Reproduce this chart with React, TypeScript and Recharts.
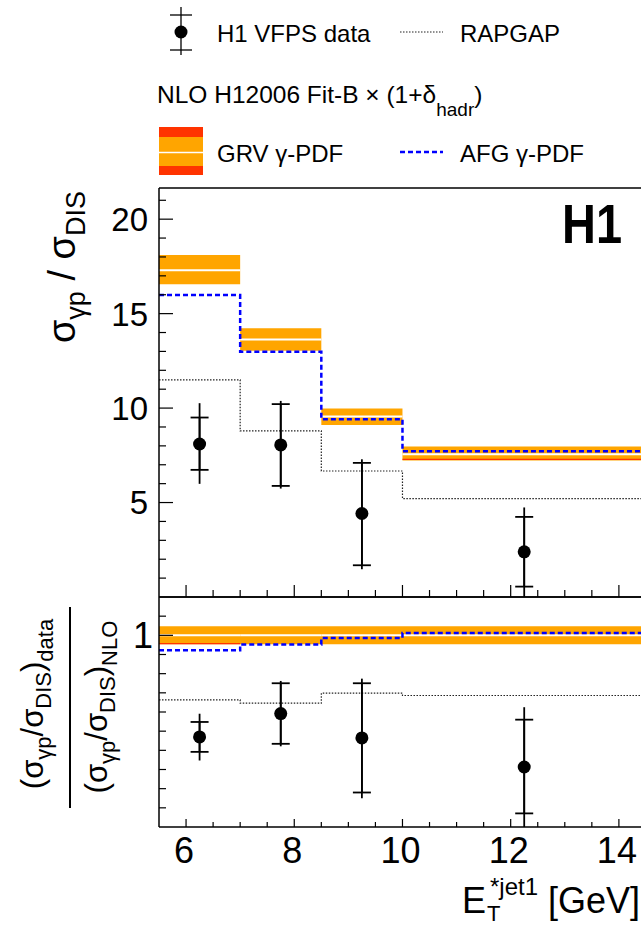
import React from 'react';
import {
  ComposedChart,
  Line,
  Area,
  Scatter,
  ErrorBar,
  XAxis,
  YAxis,
  ReferenceLine,
} from 'recharts';

// bin edges in E_T*jet1 [GeV] and data point positions
const binEdges = [5.5, 7, 8.5, 10, 15];
const pointX = [6.25, 7.75, 9.25, 12.25];

// top panel: sigma_gp / sigma_DIS
const dataY = [8.1, 8.05, 4.42, 2.39];
const statLo = [6.73, 5.88, 1.68, 0.55];
const statHi = [9.5, 10.21, 7.1, 4.24];
const totLo = [5.99, 5.74, 1.47, 0.0];
const totHi = [10.26, 10.38, 7.29, 4.74];
const rapgap = [11.49, 8.79, 6.67, 5.21];
const afg = [15.98, 12.98, 9.41, 7.72];
const grvCentral = [17.3, 13.63, 9.55, 7.56];
const grvLo = [16.56, 13.03, 9.11, 7.22];
const grvHi = [18.1, 14.22, 9.98, 7.96];
const grvRed = [null, null, null, 7.28];

// bottom panel: data / NLO
const ratioY = [0.47, 0.592, 0.465, 0.313];
const ratioStatLo = [0.392, 0.434, 0.18, 0.071];
const ratioStatHi = [0.548, 0.75, 0.75, 0.56];
const ratioTotLo = [0.347, 0.421, 0.15, 0.0];
const ratioTotHi = [0.591, 0.762, 0.774, 0.625];
const ratioRapgap = [0.663, 0.646, 0.698, 0.686];
const ratioAfg = [0.922, 0.952, 0.986, 1.012];
const ratioCentral = [1.0, 1.0, 1.0, 1.0];
const ratioLo = [0.953, 0.953, 0.953, 0.953];
const ratioHi = [1.047, 1.047, 1.047, 1.047];
const ratioRed = [0.957, null, null, null];

// axis ticks
const xTicks = [6, 6.5, 7, 7.5, 8, 8.5, 9, 9.5, 10, 10.5, 11, 11.5, 12, 12.5, 13, 13.5, 14, 14.5];
const topYTicks = [1, 2, 3, 4, 5, 6, 7, 8, 9, 10, 11, 12, 13, 14, 15, 16, 17, 18, 19, 20, 21];
const ratioYTicks = [0.1, 0.2, 0.3, 0.4, 0.5, 0.6, 0.7, 0.8, 0.9, 1.0, 1.1];

const FONT = '"Liberation Sans", Arial, Helvetica, sans-serif';
const PL = 159; // plot left
const TOP_BOTTOM = 597;
const BOT_BOTTOM = 827;
const ORANGE = '#ffa500';
const RED = '#ff3300';

const steps = (vals: (number | null)[]) =>
  binEdges.map((x, i) => ({ x, v: vals[Math.min(i, vals.length - 1)] }));

const bandSteps = (lo: number[], hi: number[]) =>
  binEdges.map((x, i) => {
    const k = Math.min(i, lo.length - 1);
    return { x, band: [lo[k], hi[k]] };
  });

const points = (y: number[], sLo: number[], sHi: number[], tLo: number[], tHi: number[]) =>
  pointX.map((x, i) => ({
    x,
    y: y[i],
    stat: [y[i] - sLo[i], sHi[i] - y[i]],
    tot: [y[i] - tLo[i], tHi[i] - y[i]],
  }));

const Dot = (p: any) => <circle cx={p.cx} cy={p.cy} r={6.5} fill="#000" />;

const TopYTick = (p: any) => {
  const v = p.payload.value;
  const major = v % 5 === 0;
  return (
    <g>
      <line x1={PL} x2={PL + (major ? 14 : 7)} y1={p.y} y2={p.y} stroke="#000" strokeWidth={1.2} />
      {major && (
        <text x={PL - 11} y={p.y} dy="0.36em" textAnchor="end" fontSize={33} fontFamily={FONT} fill="#000">
          {v}
        </text>
      )}
    </g>
  );
};

const RatioYTick = (p: any) => {
  const v = p.payload.value;
  const major = Math.abs(v - 1) < 1e-6;
  return (
    <g>
      <line x1={PL} x2={PL + (major ? 14 : 7)} y1={p.y} y2={p.y} stroke="#000" strokeWidth={1.2} />
      {major && (
        <text x={PL - 6} y={p.y} dy="0.36em" textAnchor="end" fontSize={36} fontFamily={FONT} fill="#000">
          1
        </text>
      )}
    </g>
  );
};

const TopXTick = (p: any) => {
  const major = p.payload.value % 2 === 0;
  return <line x1={p.x} x2={p.x} y1={TOP_BOTTOM} y2={TOP_BOTTOM - (major ? 12 : 7)} stroke="#000" strokeWidth={1.2} />;
};

const BotXTick = (p: any) => {
  const v = p.payload.value;
  const major = v % 2 === 0;
  return (
    <g>
      <line x1={p.x} x2={p.x} y1={BOT_BOTTOM} y2={BOT_BOTTOM - (major ? 8 : 5)} stroke="#000" strokeWidth={1.2} />
      {major && (
        <text x={p.x - 2} y={863} textAnchor="middle" fontSize={36} fontFamily={FONT} fill="#000">
          {v}
        </text>
      )}
    </g>
  );
};

const segs = (vals: (number | null)[], color: string, width: number, key: string) =>
  vals.map((v, i) =>
    v == null ? null : (
      <ReferenceLine
        key={key + i}
        segment={[
          { x: binEdges[i], y: v },
          { x: binEdges[i + 1], y: v },
        ]}
        stroke={color}
        strokeWidth={width}
      />
    )
  );

const Panel = ({
  height,
  marginTop,
  xHeight,
  domain,
  yTicks,
  YTick,
  XTick,
  pts,
  rap,
  afgVals,
  lo,
  hi,
  central,
  red,
}: any) => (
  <ComposedChart width={680} height={height} margin={{ top: marginTop, right: 7, bottom: 0, left: 0 }}>
    <XAxis
      type="number"
      dataKey="x"
      domain={[5.5, 15]}
      allowDataOverflow
      ticks={xTicks}
      interval={0}
      height={xHeight}
      tickLine={false}
      axisLine={{ stroke: '#000', strokeWidth: 1.5 }}
      tick={XTick}
    />
    <YAxis
      type="number"
      domain={domain}
      allowDataOverflow
      ticks={yTicks}
      interval={0}
      width={PL}
      tickLine={false}
      axisLine={{ stroke: '#000', strokeWidth: 1.5 }}
      tick={YTick}
    />
    <ReferenceLine y={domain[1]} stroke="#000" strokeWidth={1.5} />
    <Area
      data={bandSteps(lo, hi)}
      dataKey="band"
      type="stepAfter"
      fill={ORANGE}
      fillOpacity={1}
      stroke="none"
      isAnimationActive={false}
      activeDot={false}
    />
    {segs(central, '#fff', 2, 'c')}
    {segs(red, RED, 1.2, 'r')}
    <Line
      data={steps(rap)}
      dataKey="v"
      type="stepAfter"
      stroke="#222"
      strokeWidth={1.2}
      strokeDasharray="1.5 1.5"
      dot={false}
      activeDot={false}
      isAnimationActive={false}
    />
    <Line
      data={steps(afgVals)}
      dataKey="v"
      type="stepAfter"
      stroke="#0000ff"
      strokeWidth={2.5}
      strokeDasharray="5 3"
      dot={false}
      activeDot={false}
      isAnimationActive={false}
    />
    <Scatter data={pts} dataKey="y" shape={Dot} isAnimationActive={false}>
      <ErrorBar dataKey="tot" direction="y" width={0} stroke="#000" strokeWidth={1.8} />
      <ErrorBar dataKey="stat" direction="y" width={9} stroke="#000" strokeWidth={1.8} />
    </Scatter>
  </ComposedChart>
);

const Overlay = () => (
  <svg width={641} height={927} style={{ position: 'absolute', left: 0, top: 0 }} fontFamily={FONT}>
    {/* legend */}
    <line x1={181} x2={181} y1={7} y2={55} stroke="#000" strokeWidth={1.3} />
    <line x1={170} x2={192} y1={15} y2={15} stroke="#000" strokeWidth={1.3} />
    <line x1={170} x2={192} y1={50} y2={50} stroke="#000" strokeWidth={1.3} />
    <circle cx={181} cy={32} r={6.5} fill="#000" />
    <text x={217} y={42} fontSize={24}>H1 VFPS data</text>
    <line x1={400} x2={443} y1={32} y2={32} stroke="#222" strokeWidth={1.2} strokeDasharray="1.5 1.5" />
    <text x={460} y={42} fontSize={24}>RAPGAP</text>
    <text x={157} y={103} fontSize={24.5}>
      NLO H12006 Fit-B × (1+δ
      <tspan fontSize={19} dy={13}>hadr</tspan>
      <tspan dy={-13}>)</tspan>
    </text>
    <rect x={159} y={127} width={44} height={48} fill={RED} />
    <rect x={159} y={137} width={44} height={29} fill={ORANGE} />
    <line x1={159} x2={203} y1={152.5} y2={152.5} stroke="#fff" strokeWidth={1.5} />
    <text x={217} y={162} fontSize={24}>GRV γ-PDF</text>
    <line x1={400} x2={443} y1={152} y2={152} stroke="#0000ff" strokeWidth={2.5} strokeDasharray="5 3" />
    <text x={460} y={162} fontSize={24}>AFG γ-PDF</text>
    {/* H1 logo */}
    <text x={562} y={243} fontSize={56} fontWeight="bold" textLength={60} lengthAdjust="spacingAndGlyphs">
      H1
    </text>
    {/* y titles */}
    <text transform="rotate(-90 75 267)" x={75} y={267} textAnchor="middle" fontSize={38}>
      σ<tspan fontSize={27} dy={10}>γp</tspan>
      <tspan dy={-10}> / σ</tspan>
      <tspan fontSize={27} dy={10}>DIS</tspan>
    </text>
    <line x1={70} x2={70} y1={607} y2={808} stroke="#000" strokeWidth={2} />
    <text transform="rotate(-90 43 704)" x={43} y={704} textAnchor="middle" fontSize={31}>
      (σ<tspan fontSize={22} dy={8}>γp</tspan>
      <tspan dy={-8}>/σ</tspan>
      <tspan fontSize={22} dy={8}>DIS</tspan>
      <tspan dy={-8}>)</tspan>
      <tspan fontSize={22} dy={10}>data</tspan>
    </text>
    <text transform="rotate(-90 107 707)" x={107} y={707} textAnchor="middle" fontSize={31}>
      (σ<tspan fontSize={22} dy={8}>γp</tspan>
      <tspan dy={-8}>/σ</tspan>
      <tspan fontSize={22} dy={8}>DIS</tspan>
      <tspan dy={-8}>)</tspan>
      <tspan fontSize={22} dy={10}>NLO</tspan>
    </text>
    {/* x title */}
    <text x={462} y={913} fontSize={36}>E</text>
    <text x={487} y={921} fontSize={22}>T</text>
    <text x={490} y={895} fontSize={24}>*jet1</text>
    <text x={548} y={913} fontSize={36}>[GeV]</text>
  </svg>
);

export default function App() {
  return (
    <div
      style={{
        position: 'fixed',
        left: 0,
        top: 0,
        width: 641,
        height: 927,
        overflow: 'hidden',
        background: '#fff',
        fontFamily: FONT,
      }}
    >
      <div style={{ position: 'absolute', left: 0, top: 0 }}>
        <Panel
          height={627}
          marginTop={188}
          xHeight={30}
          domain={[0, 21.65]}
          yTicks={topYTicks}
          YTick={TopYTick}
          XTick={TopXTick}
          pts={points(dataY, statLo, statHi, totLo, totHi)}
          rap={rapgap}
          afgVals={afg}
          lo={grvLo}
          hi={grvHi}
          central={grvCentral}
          red={grvRed}
        />
      </div>
      <div style={{ position: 'absolute', left: 0, top: 0 }}>
        <Panel
          height={927}
          marginTop={597}
          xHeight={100}
          domain={[0, 1.2]}
          yTicks={ratioYTicks}
          YTick={RatioYTick}
          XTick={BotXTick}
          pts={points(ratioY, ratioStatLo, ratioStatHi, ratioTotLo, ratioTotHi)}
          rap={ratioRapgap}
          afgVals={ratioAfg}
          lo={ratioLo}
          hi={ratioHi}
          central={ratioCentral}
          red={ratioRed}
        />
      </div>
      <Overlay />
    </div>
  );
}
